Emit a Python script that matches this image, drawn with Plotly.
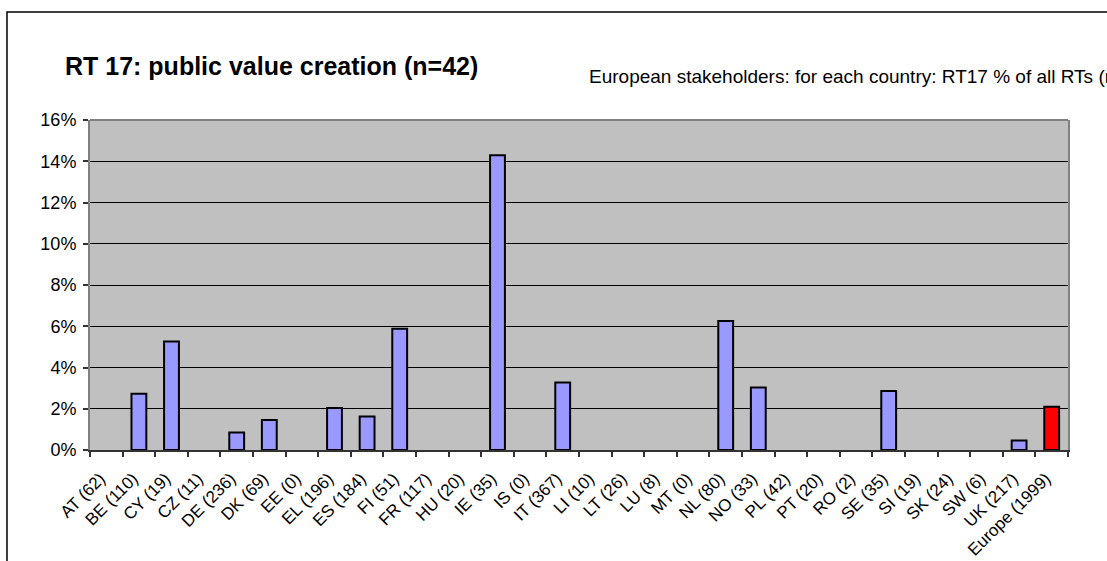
import plotly.graph_objects as go

# Countries with number of responses in brackets, plus the European total
categories = [
    "AT (62)", "BE (110)", "CY (19)", "CZ (11)", "DE (236)", "DK (69)",
    "EE (0)", "EL (196)", "ES (184)", "FI (51)", "FR (117)", "HU (20)",
    "IE (35)", "IS (0)", "IT (367)", "LI (10)", "LT (26)", "LU (8)",
    "MT (0)", "NL (80)", "NO (33)", "PL (42)", "PT (20)", "RO (2)",
    "SE (35)", "SI (19)", "SK (24)", "SW (6)", "UK (217)", "Europe (1999)",
]

# RT17 share of all RTs per country, in percent
rt17_share = [
    0, 2.73, 5.26, 0, 0.85, 1.45,
    0, 2.04, 1.63, 5.88, 0, 0,
    14.29, 0, 3.27, 0, 0, 0,
    0, 6.25, 3.03, 0, 0, 0,
    2.86, 0, 0, 0, 0.46, 2.10,
]

y_ticks = [0, 2, 4, 6, 8, 10, 12, 14, 16]

FONT = "Liberation Sans, Arial, sans-serif"
bar_colors = ["#FF0000" if c.startswith("Europe") else "#9999FF" for c in categories]
# empty bars get no outline so nothing is drawn on the baseline
bar_outline = [2 if v > 0 else 0 for v in rt17_share]

fig = go.Figure(
    go.Bar(
        x=categories,
        y=rt17_share,
        marker=dict(color=bar_colors, line=dict(color="#000000", width=bar_outline)),
        hoverinfo="x+y",
    )
)

W, H = 1107, 561
L, R, T, B = 90, 39, 120, 111
pw, ph = W - L - R, H - T - B


def px(x):
    return (x - L) / pw


def py(y):
    return (H - B - y) / ph


fig.update_layout(
    width=W,
    height=H,
    margin=dict(l=L, r=R, t=T, b=B, pad=0, autoexpand=False),
    paper_bgcolor="#FFFFFF",
    plot_bgcolor="#C0C0C0",
    bargap=0.545,
    showlegend=False,
    font=dict(family=FONT, size=18, color="#000000"),
    xaxis=dict(
        type="category",
        automargin=False,
        tickangle=-45,
        ticks="outside",
        tickson="boundaries",
        ticklen=5,
        tickwidth=1.5,
        tickcolor="#333333",
        ticklabelstandoff=10,
        ticklabelshift=-6,
        showline=True,
        linecolor="#333333",
        linewidth=2,
        showgrid=False,
        tickfont=dict(family=FONT, size=17, color="#000000"),
    ),
    yaxis=dict(
        automargin=False,
        range=[0, 16],
        tickvals=y_ticks,
        ticktext=[f"{v}%" for v in y_ticks],
        ticks="outside",
        ticklen=5,
        tickwidth=1.5,
        tickcolor="#333333",
        ticklabelstandoff=3,
        showline=True,
        linecolor="#808080",
        linewidth=2,
        mirror=True,
        showgrid=True,
        gridcolor="#000000",
        gridwidth=1,
        zeroline=False,
        tickfont=dict(family=FONT, size=18, color="#000000"),
    ),
    shapes=[
        # grey top edge of the plot area
        dict(type="line", xref="paper", yref="paper", x0=0, x1=1, y0=1, y1=1,
             line=dict(color="#808080", width=2), layer="above"),
        # outer chart frame
        dict(type="rect", xref="paper", yref="paper",
             x0=px(7), x1=px(W + 20), y0=py(12), y1=py(H + 20),
             line=dict(color="#000000", width=1.5), layer="above"),
    ],
    annotations=[
        dict(text="<b>RT 17: public value creation (n=42)</b>",
             xref="paper", yref="paper", x=px(63), y=py(66),
             xanchor="left", yanchor="middle", showarrow=False,
             font=dict(family=FONT, size=25, color="#000000")),
        dict(text="European stakeholders: for each country: RT17 % of all RTs (n=1999)",
             xref="paper", yref="paper", x=px(587), y=py(76),
             xanchor="left", yanchor="middle", showarrow=False,
             font=dict(family=FONT, size=19, color="#000000")),
    ],
)

fig.write_html("out.html")
